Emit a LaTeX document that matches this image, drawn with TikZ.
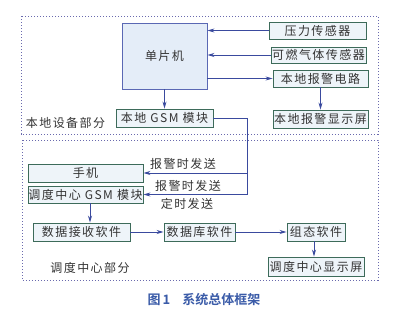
\documentclass[tikz,border=0pt]{standalone}
\usepackage{fontspec}
\setmainfont{Noto Sans CJK SC}
\newfontfamily\capfont{Noto Sans CJK SC Bold}
\usetikzlibrary{arrows.meta}
\definecolor{boxline}{HTML}{3D6B5A}
\definecolor{boxfill}{HTML}{EEF4F9}
\definecolor{mculine}{HTML}{5A68B4}
\definecolor{mcufill}{HTML}{E4EDF8}
\definecolor{arr}{HTML}{3A4A9E}
\definecolor{dotc}{HTML}{6A6AAE}
\definecolor{txt}{HTML}{333333}
\definecolor{capc}{HTML}{3A5BA8}
\begin{document}
\begin{tikzpicture}[x=1pt,y=-1pt,
  font=\fontsize{12}{12}\selectfont\addfontfeatures{LetterSpace=12},
  bx/.style={draw=boxline,line width=0.9pt,fill=boxfill,inner sep=0pt,text=txt},
  conn/.style={draw=arr,line width=0.8pt,-{Stealth[length=7pt,width=4pt]}},
  plain/.style={draw=arr,line width=0.8pt},
  region/.style={draw=dotc,line width=0.9pt,dash pattern=on 1.4pt off 1.6pt},
  lbl/.style={text=txt,inner sep=0pt}]
\useasboundingbox (0,0) rectangle (400,317);
% regions
\draw[region] (21,16) rectangle (378,134);
\draw[region] (22,140) rectangle (378,280);
% nodes
\node[draw=mculine,line width=0.9pt,fill=mcufill,inner sep=0pt,text=txt,minimum width=85pt,minimum height=66pt] (mcu) at (164.5,56) {单片机};
\node[bx,minimum width=97pt,minimum height=17pt] (p) at (317.5,30.5) {压力传感器};
\node[bx,minimum width=95pt,minimum height=16pt] (g) at (318.5,55) {可燃气体传感器};
\node[bx,minimum width=95pt,minimum height=17pt] (a) at (320.5,78.5) {本地报警电路};
\node[bx,minimum width=95pt,minimum height=18pt] (d) at (320.5,119) {本地报警显示屏};
\node[bx,minimum width=97pt,minimum height=18pt] (lg) at (164.5,118) {本地 GSM 模块};
\node[bx,minimum width=115pt,minimum height=18pt] (ph) at (85.5,173) {手机};
\node[bx,minimum width=115pt,minimum height=17pt] (cg) at (85.5,194.5) {调度中心 GSM 模块};
\node[bx,minimum width=97pt,minimum height=18pt] (rx) at (81.5,232) {数据接收软件};
\node[bx,minimum width=71pt,minimum height=18pt] (db) at (199.5,232) {数据库软件};
\node[bx,minimum width=58pt,minimum height=18pt] (zt) at (316,232) {组态软件};
\node[bx,minimum width=96pt,minimum height=19pt] (cd) at (316,266.5) {调度中心显示屏};
% labels
\node[lbl] (l1) at (65.5,123) {本地设备部分};
\node[lbl] (l2) at (90,268) {调度中心部分};
\node[lbl] (s1) at (183,164) {报警时发送};
\node[lbl] (s2) at (188,186) {报警时发送};
\node[lbl] (s3) at (187,204) {定时发送};
\node[text=capc,inner sep=0pt,font=\capfont\fontsize{13}{13}\selectfont] (cap) at (204,300) {图\,1\hspace{12pt}系统总体框架};
% connectors
\draw[conn] (p.west) -- (p.west -| mcu.east);
\draw[conn] (g.west) -- (g.west -| mcu.east);
\draw[conn] (mcu.east |- a.west) -- (a.west);
\draw[conn] (a.south) -- (d.north);
\draw[conn] (mcu.south) -- (lg.north);
\coordinate (k1) at (247,118);
\coordinate (k2) at (247,173);
\coordinate (k3) at (247,194.5);
\draw[plain] (lg.east) -- (k1) -- (k3);
\draw[conn] (k2) -- (ph.east);
\draw[conn] (k3) -- (cg.east);
\draw[conn] ([xshift=4.5pt]cg.south) -- ([xshift=4.5pt]cg.south |- rx.north);
\draw[conn] (rx.east) -- (db.west);
\draw[conn] (db.east) -- (zt.west);
\draw[conn] ([xshift=-2pt]zt.south) -- ([xshift=-2pt]cd.north);
\end{tikzpicture}
\end{document}
